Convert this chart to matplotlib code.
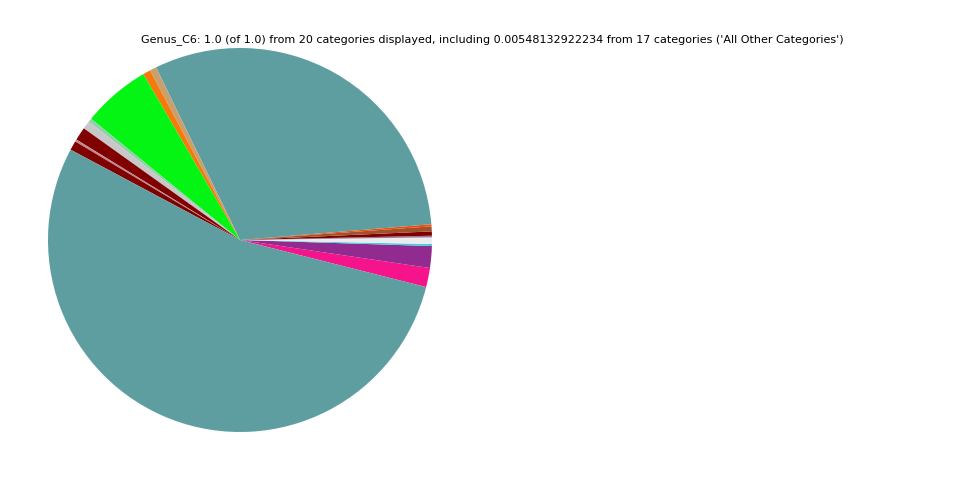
import matplotlib
matplotlib.use('Agg')
import matplotlib.pyplot as plt

# slice sizes (fractions of the whole), counter-clockwise from the pink slice
labels = ['s1', 's2', 's3', 'All Other Categories', 's5', 's6', 's7', 's8', 's9',
          's10', 's11', 's12', 's13', 's14', 's15', 's16', 's17', 's18']
values = [0.0161, 0.0183, 0.0017, 0.0055, 0.0014, 0.0036, 0.0042, 0.0017, 0.3089,
          0.0056, 0.0064, 0.0572, 0.0031, 0.0069, 0.0111, 0.0019, 0.0078, 0.5384]
colors = ['#f5148c', '#922b8f', '#40d0e0', '#ececec', '#9a7a9a', '#800000', '#a0522d',
          '#ff4500', '#5f9ea0', '#c8a070', '#f57a0a', '#04f414', '#8fd0a8', '#c8c8c8',
          '#800000', '#c08890', '#800000', '#5f9ea0']

title = ("Genus_C6: 1.0 (of 1.0) from 20 categories displayed, including "
         "0.00548132922234 from 17 categories ('All Other Categories')")

fig = plt.figure(figsize=(9.6, 4.8), dpi=100)
ax = fig.add_axes([0, 0, 0.5, 1])
ax.pie(values, colors=colors, startangle=-14.2)
ax.set_aspect('equal')

fig.text(0.5125, 1 - 40 / 480, title, ha='center', va='center', fontsize=8,
         family=['Liberation Sans Narrow', 'DejaVu Sans'])

fig.savefig('out.png', dpi=100)
